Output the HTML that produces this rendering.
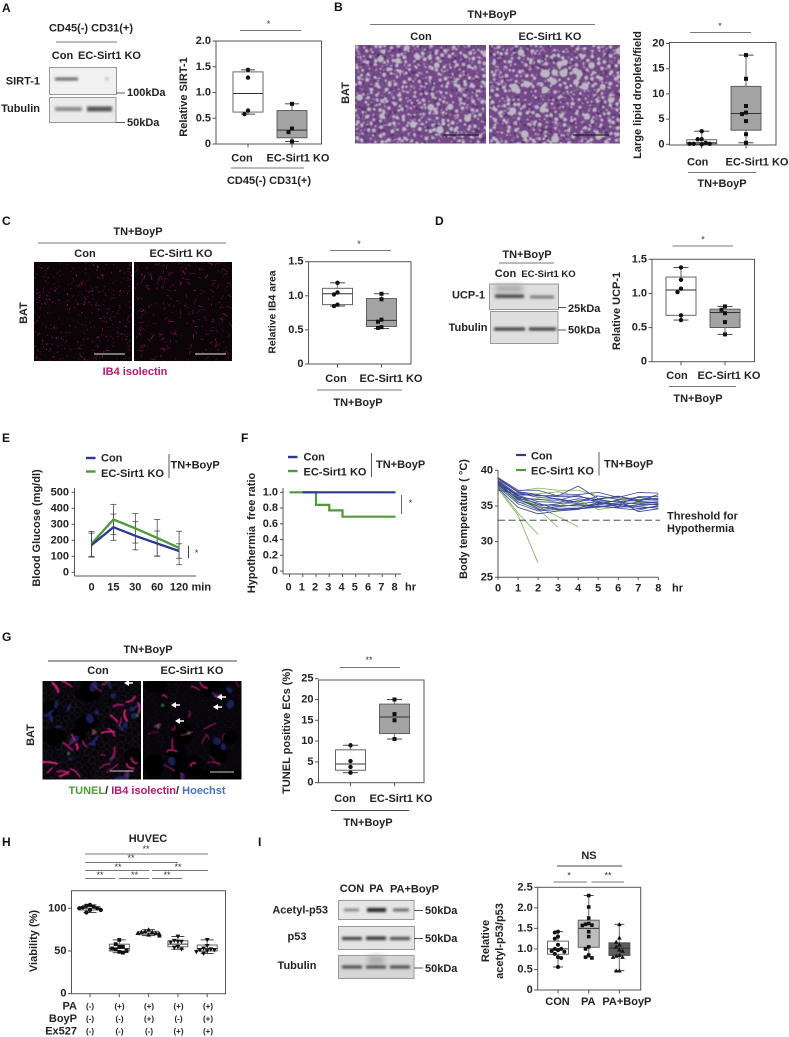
<!DOCTYPE html>
<html lang="en">
<head>
<meta charset="utf-8">
<title>EC-Sirt1 KO multi-panel figure</title>
<style>
html,body{margin:0;padding:0;background:#fff}
svg{display:block}
text{font:bold 11px "Liberation Sans",sans-serif;fill:#222;dominant-baseline:central;white-space:pre}
.m{text-anchor:middle}
.e{text-anchor:end}
.l{font-size:12px;fill:#111}
.s{font-size:9.5px}
.x{font-size:11px}
.star{font-size:9px;font-weight:normal;fill:#333}
.rule{stroke:#777;stroke-width:1;fill:none}
.tick{stroke:#555;stroke-width:1;fill:none}
.bar{stroke:#555;stroke-width:1;fill:none}
</style>
</head>
<body>
<svg id="fig" xmlns="http://www.w3.org/2000/svg" width="789" height="1037" viewBox="0 0 789 1037">
<defs>
<filter id="b04" x="-5%" y="-5%" width="110%" height="110%"><feGaussianBlur stdDeviation="0.45"/></filter>
<filter id="b1" x="-30%" y="-100%" width="160%" height="300%"><feGaussianBlur stdDeviation="1.2"/></filter>
<filter id="b3" x="-30%" y="-100%" width="160%" height="300%"><feGaussianBlur stdDeviation="2.6"/></filter>
</defs>

<!-- PANEL A -->
<g id="panel-a">
<text class="l" x="2" y="8">A</text>
<text class="m" x="91" y="28.5">CD45(-) CD31(+)</text>
<line class="rule" x1="56" x2="117" y1="42" y2="42"/>
<text class="m" x="62.5" y="56">Con</text>
<text class="m" x="109.5" y="56">EC-Sirt1 KO</text>
<text class="e" x="40" y="81.5">SIRT-1</text>
<text class="e" x="40" y="109">Tubulin</text>
<g>
<rect x="49.5" y="67.5" width="67" height="27" fill="#f1f1f1" stroke="#999"/>
<rect x="55" y="77.5" width="23" height="3" fill="#666" filter="url(#b1)"/>
<rect x="105" y="77.5" width="4" height="2.5" fill="#bbb" filter="url(#b1)"/>
</g>
<g>
<rect x="49.5" y="97.5" width="66.5" height="25" fill="#ebebeb" stroke="#999"/>
<rect x="55" y="107" width="27" height="4" fill="#888" filter="url(#b1)"/>
<rect x="87" y="106.5" width="25" height="5" fill="#555" filter="url(#b1)"/>
</g>
<line class="tick" x1="116" x2="125" y1="93" y2="93"/>
<line class="tick" x1="116" x2="125" y1="122.5" y2="122.5"/>
<text x="127" y="93">100kDa</text>
<text x="127" y="123">50kDa</text>
<text class="m" transform="translate(184 97) rotate(-90)">Relative SIRT-1</text>
<line class="rule" x1="231" x2="304" y1="168" y2="168"/>
<text class="m" x="269" y="181">CD45(-) CD31(+)</text>
<line class="rule" x1="240" x2="301" y1="30.5" y2="30.5"/>
<text class="m star" x="268.5" y="24">*</text>
</g>

<!-- PANEL B -->
<g id="panel-b">
<text class="l" x="334" y="7">B</text>
<text class="m" x="492" y="15">TN+BoyP</text>
<line class="rule" x1="370" x2="595" y1="24.5" y2="24.5"/>
<text class="m" x="421" y="37">Con</text>
<text class="m" x="550" y="37">EC-Sirt1 KO</text>
<text class="m" transform="translate(346 93) rotate(-90)">BAT</text>
<g id="he-a"></g>
<g id="he-b"></g>
<line x1="443" x2="479" y1="135" y2="135" stroke="#222" stroke-width="1.2"/>
<line x1="573" x2="609" y1="135" y2="135" stroke="#222" stroke-width="1.2"/>
<text class="m" transform="translate(638 95) rotate(-90)">Large lipid droplets/field</text>
<line class="rule" x1="688" x2="756" y1="172.5" y2="172.5" stroke-width="1.4"/>
<text class="m" x="722" y="184">TN+BoyP</text>
<line class="rule" x1="690" x2="751" y1="32.5" y2="32.5"/>
<text class="m star" x="720" y="26">*</text>
</g>

<!-- PANEL C -->
<g id="panel-c">
<text class="l" x="2" y="221">C</text>
<text class="m" x="138" y="232">TN+BoyP</text>
<line class="rule" x1="38" x2="226" y1="243" y2="243" stroke-width="1.3"/>
<text class="m" x="85" y="254">Con</text>
<text class="m" x="181" y="254">EC-Sirt1 KO</text>
<text class="m" transform="translate(24 313) rotate(-90)">BAT</text>
<g id="ib-a"></g>
<g id="ib-b"></g>
<line x1="94" x2="125" y1="354" y2="354" stroke="#bbb" stroke-width="1.2"/>
<line x1="195" x2="226" y1="354" y2="354" stroke="#bbb" stroke-width="1.2"/>
<text class="m" x="135" y="372" style="fill:#b5186e">IB4 isolectin</text>
<text class="m" transform="translate(273 312) rotate(-90)" style="font-size:10.4px">Relative IB4 area</text>
<line class="rule" x1="317" x2="402" y1="390" y2="390"/>
<text class="m" x="358" y="403">TN+BoyP</text>
<line class="rule" x1="330" x2="391" y1="250.5" y2="250.5"/>
<text class="m star" x="359" y="244">*</text>
</g>

<!-- PANEL D -->
<g id="panel-d">
<text class="l" x="435" y="221">D</text>
<text class="m" x="527" y="255">TN+BoyP</text>
<line class="rule" x1="499" x2="554" y1="263" y2="263"/>
<text class="m" x="505.5" y="274">Con</text>
<text class="m s" x="548.5" y="274.5">EC-Sirt1 KO</text>
<text class="e" x="485" y="295.5">UCP-1</text>
<text class="e" x="487.5" y="328">Tubulin</text>
<g>
<rect x="489.5" y="284" width="69" height="25.5" fill="#dedede" stroke="#999"/>
<rect x="495" y="285" width="28" height="7" fill="#aaa" filter="url(#b3)"/>
<rect x="495" y="294.5" width="29" height="3.5" fill="#444" filter="url(#b1)"/>
<rect x="530" y="295.5" width="24" height="3" fill="#777" filter="url(#b1)"/>
</g>
<g>
<rect x="490.5" y="311.5" width="67.5" height="32" fill="#dfdfdf" stroke="#999"/>
<rect x="494" y="327.5" width="31" height="3" fill="#333" filter="url(#b1)"/>
<rect x="529" y="327.5" width="27" height="3" fill="#333" filter="url(#b1)"/>
</g>
<line class="tick" x1="558" x2="566" y1="307.5" y2="307.5"/>
<line class="tick" x1="558" x2="566" y1="330" y2="330"/>
<text x="568" y="309">25kDa</text>
<text x="568" y="330.5">50kDa</text>
<text class="m" transform="translate(617 311) rotate(-90)">Relative UCP-1</text>
<line class="rule" x1="669" x2="736" y1="386.5" y2="386.5"/>
<text class="m" x="698" y="399">TN+BoyP</text>
<line class="rule" x1="672.5" x2="733" y1="246" y2="246"/>
<text class="m star" x="703" y="239.5">*</text>
</g>

<!-- PANEL E -->
<g id="panel-e">
<text class="l" x="2" y="438">E</text>
<line x1="86" x2="95.5" y1="458" y2="458" stroke="#2b3990" stroke-width="2.4"/>
<text class="x" x="101" y="458.5">Con</text>
<line x1="86" x2="95.5" y1="471.5" y2="471.5" stroke="#4f9a3a" stroke-width="2.4"/>
<text class="x" x="101" y="474">EC-Sirt1 KO</text>
<line x1="169" x2="169" y1="454" y2="478" stroke="#555"/>
<text x="170.5" y="465.5">TN+BoyP</text>
<text class="m x" transform="translate(37 528) rotate(-90)">Blood Glucose (mg/dl)</text>
<text class="x" x="191.5" y="587.5">min</text>
<line x1="188.5" x2="188.5" y1="546" y2="558" stroke="#444"/>
<text class="m star" x="196.5" y="553">*</text>
</g>

<!-- PANEL F -->
<g id="panel-f">
<text class="l" x="241" y="438">F</text>
<line x1="288" x2="297.5" y1="457" y2="457" stroke="#2b3990" stroke-width="2.4"/>
<text class="x" x="303.5" y="457.5">Con</text>
<line x1="288" x2="297.5" y1="471" y2="471" stroke="#4f9a3a" stroke-width="2.4"/>
<text class="x" x="303.5" y="472.5">EC-Sirt1 KO</text>
<line x1="371.5" x2="371.5" y1="453" y2="477" stroke="#555"/>
<text x="376" y="465">TN+BoyP</text>
<text class="m x" transform="translate(252 533) rotate(-90)">Hypothermia  free ratio</text>
<text class="x" x="405" y="587.5">hr</text>
<line x1="401.5" x2="401.5" y1="495" y2="514" stroke="#666"/>
<text class="m star" x="410.5" y="503">*</text>
</g>

<!-- BODY TEMPERATURE -->
<g id="panel-temp">
<line x1="516" x2="526" y1="455" y2="455" stroke="#2b3990" stroke-width="2.2"/>
<text class="x" x="531" y="456.5">Con</text>
<line x1="516" x2="526" y1="470" y2="470" stroke="#4f9a3a" stroke-width="2.2"/>
<text class="x" x="531" y="471.5">EC-Sirt1 KO</text>
<line x1="599" x2="599" y1="452" y2="475.5" stroke="#999" stroke-width="1.6"/>
<text x="604" y="464.5">TN+BoyP</text>
<text class="m x" transform="translate(464 519) rotate(-90)">Body temperature ( °C)</text>
<text class="x" x="672" y="588.5">hr</text>
<text x="667" y="516.5">Threshold for</text>
<text x="667" y="529">Hypothermia</text>
</g>

<!-- PANEL G -->
<g id="panel-g">
<text class="l" x="2" y="637">G</text>
<text class="m" x="148" y="650">TN+BoyP</text>
<line x1="48" x2="237" y1="661" y2="661" stroke="#444"/>
<text class="m" x="98" y="671">Con</text>
<text class="m" x="192" y="671">EC-Sirt1 KO</text>
<text class="m" transform="translate(31 735) rotate(-90)">BAT</text>
<g id="if-a"></g>
<g id="if-b"></g>
<line x1="110" x2="133.5" y1="771" y2="771" stroke="#ccc" stroke-width="1.1"/>
<line x1="210" x2="234" y1="772" y2="772" stroke="#ccc" stroke-width="1.1"/>
<text class="m" x="147" y="791"><tspan style="fill:#4f9a3a">TUNEL</tspan>/ <tspan style="fill:#b5186e">IB4 isolectin</tspan>/ <tspan style="fill:#4a72c4">Hoechst</tspan></text>
<text class="m" transform="translate(287 731) rotate(-90)">TUNEL positive ECs (%)</text>
<line x1="331" x2="409" y1="810.5" y2="810.5" stroke="#444"/>
<text class="m" x="368" y="823">TN+BoyP</text>
<line class="rule" x1="340" x2="400" y1="667.5" y2="667.5"/>
<text class="m star" x="369" y="660">**</text>
</g>

<!-- PANEL H -->
<g id="panel-h">
<text class="l" x="2" y="842">H</text>
<text class="m" x="148" y="839">HUVEC</text>
<g>
<line class="rule" x1="85" x2="208" y1="854" y2="854"/>
<line class="rule" x1="85" x2="178" y1="862.5" y2="862.5"/>
<line class="rule" x1="85" x2="149" y1="870.5" y2="870.5"/>
<line class="rule" x1="152" x2="208" y1="870.5" y2="870.5"/>
<line class="rule" x1="85" x2="115" y1="878.5" y2="878.5"/>
<line class="rule" x1="119" x2="149" y1="878.5" y2="878.5"/>
<line class="rule" x1="152" x2="182" y1="878.5" y2="878.5"/>
<text class="m star" x="146" y="849">**</text>
<text class="m star" x="131" y="858">**</text>
<text class="m star" x="118" y="867">**</text>
<text class="m star" x="178" y="867">**</text>
<text class="m star" x="100" y="875">**</text>
<text class="m star" x="134.5" y="875">**</text>
<text class="m star" x="167" y="875">**</text>
</g>
<text class="m" transform="translate(34 941) rotate(-90)">Viability (%)</text>
<text class="e" x="77" y="1006.5">PA</text>
<text class="e" x="77" y="1019">BoyP</text>
<text class="e" x="77" y="1031.5">Ex527</text>
</g>

<!-- PANEL I -->
<g id="panel-i">
<text class="l" x="258" y="842">I</text>
<text class="m" x="352" y="889">CON</text>
<text class="m" x="376.5" y="889">PA</text>
<text class="m" x="414.5" y="889.5">PA+BoyP</text>
<text class="e" x="328" y="910.5">Acetyl-p53</text>
<text class="m" x="297" y="937">p53</text>
<text class="m" x="297" y="966">Tubulin</text>
<g>
<rect x="338.5" y="900.5" width="75.5" height="19" fill="#e6e6e6" stroke="#999"/>
<rect x="344" y="908.5" width="15" height="3" fill="#888" filter="url(#b1)"/>
<rect x="367" y="908" width="19" height="4" fill="#222" filter="url(#b1)"/>
<rect x="393" y="908.5" width="16" height="3" fill="#666" filter="url(#b1)"/>
</g>
<g>
<rect x="338.5" y="926.5" width="76" height="23" fill="#e3e3e3" stroke="#999"/>
<rect x="342" y="937" width="20" height="3" fill="#333" filter="url(#b1)"/>
<rect x="366" y="936.5" width="20" height="3.5" fill="#333" filter="url(#b1)"/>
<rect x="390" y="937" width="20" height="3" fill="#444" filter="url(#b1)"/>
</g>
<g>
<rect x="338.5" y="955.5" width="75.5" height="23" fill="#d6d6d6" stroke="#999"/>
<rect x="368" y="956" width="16" height="8" fill="#aaa" filter="url(#b3)"/>
<rect x="342" y="965.5" width="20" height="3" fill="#444" filter="url(#b1)"/>
<rect x="366" y="965.5" width="20" height="3" fill="#444" filter="url(#b1)"/>
<rect x="390" y="965.5" width="20" height="3" fill="#444" filter="url(#b1)"/>
</g>
<line class="tick" x1="414" x2="423" y1="910.5" y2="910.5"/>
<line class="tick" x1="414" x2="423" y1="938.5" y2="938.5"/>
<line class="tick" x1="414" x2="423" y1="968" y2="968"/>
<text x="425" y="911">50kDa</text>
<text x="425" y="939">50kDa</text>
<text x="425" y="969">50kDa</text>
<text class="m" transform="translate(486 941) rotate(-90)">Relative</text>
<text class="m" transform="translate(500 941) rotate(-90)">acetyl-p53/p53</text>
<text class="m" x="589" y="856">NS</text>
<line x1="557" x2="622" y1="866" y2="866" stroke="#444"/>
<line class="rule" x1="553.5" x2="587" y1="882" y2="882"/>
<line class="rule" x1="591.5" x2="624" y1="882" y2="882"/>
<text class="m star" x="569" y="875.5">*</text>
<text class="m star" x="608" y="875.5">**</text>
</g>
<g id="charts"></g>
</svg>

<script>
/* ---------- chart data ---------- */
const aCategories = ['Con', 'EC-Sirt1 KO'];
const aTickValues = [0, 0.5, 1, 1.5, 2];
const aTickLabels = ['0', '0.5', '1.0', '1.5', '2.0'];
const aConStats = [0.58, 0.62, 0.98, 1.40, 1.44];
const aKoStats = [0.05, 0.12, 0.27, 0.65, 0.78];
const aConPoints = [1.44, 1.29, 0.65, 0.58];
const aKoPoints = [0.78, 0.30, 0.23, 0.05];

const bCategories = ['Con', 'EC-Sirt1 KO'];
const bTickValues = [0, 5, 10, 15, 20];
const bTickLabels = ['0', '5', '10', '15', '20'];
const bConStats = [0, 0.1, 0.3, 0.9, 2.6];
const bKoStats = [0.3, 2.8, 6.1, 11.5, 17.7];
const bConPoints = [2.6, 1.0, 1.0, 0.3, 0.1, 0.1, 0.1, 0];
const bKoPoints = [17.7, 13, 7.6, 6.3, 6.0, 4.6, 2.0, 0.3];

const cCategories = ['Con', 'EC-Sirt1 KO'];
const cTickValues = [0, 0.5, 1, 1.5];
const cTickLabels = ['0', '0.5', '1.0', '1.5'];
const cConStats = [0.85, 0.87, 1.03, 1.11, 1.19];
const cKoStats = [0.52, 0.55, 0.64, 0.96, 1.03];
const cConPoints = [1.19, 1.05, 1.02, 0.87, 0.85];
const cKoPoints = [1.03, 0.95, 0.65, 0.62, 0.54, 0.53];

const dCategories = ['Con', 'EC-Sirt1 KO'];
const dTickValues = [0, 0.5, 1, 1.5];
const dTickLabels = ['0', '0.5', '1.0', '1.5'];
const dConStats = [0.61, 0.68, 1.05, 1.24, 1.38];
const dKoStats = [0.40, 0.50, 0.72, 0.77, 0.81];
const dConPoints = [1.38, 1.20, 1.07, 1.02, 0.68, 0.61];
const dKoPoints = [0.81, 0.76, 0.71, 0.58, 0.40];

const gCategories = ['Con', 'EC-Sirt1 KO'];
const gTickValues = [0, 5, 10, 15, 20, 25];
const gTickLabels = ['0', '5', '10', '15', '20', '25'];
const gConStats = [2.4, 3.0, 4.5, 7.9, 9.0];
const gKoStats = [10.5, 11.8, 15.8, 18.9, 20.0];
const gConPoints = [9.0, 5.2, 3.8, 2.4];
const gKoPoints = [20.0, 16.5, 15.0, 10.5];

const hTickValues = [0, 50, 100];
const hTickLabels = ['0', '50', '100'];
const hStats1 = [95, 98, 100, 102, 104];
const hStats2 = [48, 50, 53, 58, 63];
const hStats3 = [68, 69, 71, 73, 75];
const hStats4 = [52, 55, 58, 62, 67];
const hStats5 = [47, 50, 53, 57, 63];
const hPoints1 = [104, 103, 102, 101, 100, 100, 98, 98, 95];
const hPoints2 = [63, 58, 55, 55, 53, 52, 50, 49, 48];
const hPoints3 = [75, 73, 72, 72, 71, 71, 70, 69, 68];
const hPoints4 = [67, 62, 61, 61, 60, 55, 54, 52];
const hPoints5 = [63, 56, 53, 52, 51, 51, 50, 49, 47];
const hPaRow = ['(-)', '(+)', '(+)', '(+)', '(+)'];
const hBoypRow = ['(-)', '(-)', '(+)', '(-)', '(+)'];
const hEx527Row = ['(-)', '(-)', '(-)', '(+)', '(+)'];

const iCategories = ['CON', 'PA', 'PA+BoyP'];
const iTickValues = [0, 0.5, 1, 1.5, 2, 2.5];
const iTickLabels = ['0', '0.5', '1.0', '1.5', '2.0', '2.5'];
const iConStats = [0.56, 0.87, 1.00, 1.19, 1.42];
const iPaStats = [0.80, 1.04, 1.50, 1.70, 2.30];
const iBoypStats = [0.47, 0.84, 1.02, 1.15, 1.60];
const iConPoints = [1.42, 1.40, 1.30, 1.25, 1.10, 1.00, 1.00, 0.97, 0.95, 0.93, 0.88, 0.80, 0.78, 0.56];
const iPaPoints = [2.30, 2.02, 1.75, 1.62, 1.60, 1.58, 1.57, 1.42, 1.30, 1.05, 1.00, 0.85, 0.80, 0.78];
const iBoypPoints = [1.60, 1.27, 1.17, 1.10, 1.05, 0.98, 0.95, 0.85, 0.83, 0.80, 0.80, 0.47, 0.47];

const eCategories = ['0', '15', '30', '60', '120'];
const eTickValues = [0, 100, 200, 300, 400, 500];
const eConMeans = [170, 282, 228, 180, 133];
const eKoMeans = [178, 330, 275, 215, 152];
const eConErrors = [75, 82, 88, 78, 45];
const eKoErrors = [78, 95, 92, 115, 105];

const fHours = [0, 1, 2, 3, 4, 5, 6, 7, 8];
const fTickValues = [0, 0.2, 0.4, 0.6, 0.8, 1];
const fTickLabels = ['0', '0.2', '0.4', '0.6', '0.8', '1.0'];
const fConRatio = [1, 1, 1, 1, 1, 1, 1, 1, 1];
const fKoRatio = [1, 1, 0.84, 0.77, 0.69, 0.69, 0.69, 0.69, 0.69];

const tHours = [0, 1, 2, 3, 4, 5, 6, 7, 8];
const tTickValues = [25, 30, 35, 40];
const tThreshold = 33;
const tConLines = [
  [39.0, 37.2, 37.2, 36.4, 37.8, 36.0, 36.3, 35.9, 35.8],
  [38.8, 36.9, 36.4, 36.5, 36.6, 36.9, 36.2, 36.9, 36.8],
  [38.6, 36.6, 36.5, 36.3, 36.3, 35.9, 36.4, 35.6, 36.6],
  [38.5, 36.2, 35.9, 35.8, 36.5, 35.4, 35.2, 36.3, 36.3],
  [38.4, 36.5, 35.6, 35.5, 36.0, 35.7, 35.6, 35.8, 36.1],
  [38.3, 35.9, 35.0, 35.3, 35.7, 35.9, 35.5, 35.3, 35.6],
  [38.2, 36.4, 35.2, 35.1, 35.0, 35.2, 35.0, 35.6, 35.4],
  [38.1, 36.0, 34.7, 34.9, 35.2, 34.9, 34.8, 35.2, 35.2],
  [38.0, 35.6, 34.5, 34.7, 34.7, 35.5, 35.3, 34.6, 35.0],
  [37.9, 36.1, 35.4, 34.5, 34.6, 34.8, 35.2, 34.9, 34.7],
  [37.7, 35.3, 34.3, 34.5, 34.6, 35.0, 34.7, 34.4, 35.1],
  [37.5, 34.8, 33.9, 34.3, 34.5, 35.3, 35.8, 34.2, 34.6],
  [37.2, 36.8, 36.2, 36.0, 35.5, 36.4, 35.9, 36.2, 35.9],
  [38.9, 37.0, 36.6, 35.9, 35.3, 35.6, 34.9, 35.0, 35.3]
];
const tKoLines = [
  [38.6, 37.1, 37.5, 37.2, 37.2, 36.4, 36.1, 35.8, 36.6],
  [38.3, 36.4, 36.7, 37.0, 36.3, 35.9, 35.5, 36.2, 36.0],
  [38.0, 35.9, 36.0, 35.5, 35.2, 35.1, 35.9, 35.7, 35.5],
  [37.9, 35.5, 35.2, 35.0, 35.8, 34.5, 34.9, 34.7, 34.9],
  [37.8, 36.2, 35.0, 34.4, 34.7, 35.4, 35.2, 35.5, 35.2],
  [37.7, 35.8, 34.9, 33.5, 32.1],
  [38.1, 36.0, 34.6, 32.0],
  [37.6, 34.0, 31.0],
  [37.4, 33.7, 27.0]
];

/* ---------- helpers ---------- */
const SVGNS = 'http://www.w3.org/2000/svg';
const chartsRoot = document.getElementById('charts');
function mk(tag, attrs, parent) {
  const node = document.createElementNS(SVGNS, tag);
  for (const k in attrs) node.setAttribute(k, attrs[k]);
  (parent || chartsRoot).appendChild(node);
  return node;
}
function lbl(str, x, y, cls, parent) {
  const node = mk('text', {x: x, y: y, class: cls || ''}, parent);
  node.textContent = str;
  return node;
}
function marker(kind, x, y, size, parent) {
  if (kind === 'square') return mk('rect', {x: x - size, y: y - size, width: size * 2, height: size * 2, fill: '#111'}, parent);
  if (kind === 'up') return mk('polygon', {points: [x, y - size - 0.5, x + size + 0.5, y + size, x - size - 0.5, y + size].join(' '), fill: '#111'}, parent);
  if (kind === 'down') return mk('polygon', {points: [x, y + size + 0.5, x + size + 0.5, y - size, x - size - 0.5, y - size].join(' '), fill: '#111'}, parent);
  return mk('circle', {cx: x, cy: y, r: size + 0.2, fill: '#111'}, parent);
}
function swarm(points, yScale, gap, minDist) {
  const placed = [];
  const order = [0, -1, 1, -2, 2, -3, 3];
  return points.map(function (v) {
    const py = yScale(v);
    let off = 0;
    for (let k = 0; k < order.length; k++) {
      off = order[k] * gap;
      const clash = placed.some(function (p) { return Math.abs(p.y - py) < minDist && Math.abs(p.x - off) < gap * 0.9; });
      if (!clash) break;
    }
    placed.push({x: off, y: py});
    return off;
  });
}

/* ---------- box plot panels ---------- */
function boxChart(key, c) {
  const g = mk('g', {});
  
  
  const y = function (v) { return c.y0 + (c.yTop - c.y0) * (v / c.yMax); };
  const x = function (i) { return c.x0 + i * c.step; };
  const frame = mk('rect', {x: c.l, y: c.t, width: c.r - c.l, height: c.b - c.t, fill: 'none', stroke: '#555', 'stroke-width': 1}, g);
  
  
  c.ticks.forEach(function (v, i) {
    const tk = mk('line', {x1: c.l - 3.5, x2: c.l, y1: y(v), y2: y(v), class: 'tick'}, g);
    
    
    const tl = lbl(c.tickLabels[i], c.l - 5, y(v), 'e', g);
    
    
  });
  c.stats.forEach(function (st, i) {
    const cx = x(i);
    const tk = mk('line', {x1: cx, x2: cx, y1: c.b, y2: c.b + 3.5, class: 'tick'}, g);
    
    
    const whisk = mk('line', {x1: cx, x2: cx, y1: y(st[0]), y2: y(st[4]), stroke: '#888', 'stroke-width': 1.3}, g);
    
    
    [st[0], st[4]].forEach(function (v) {
      const cap = mk('line', {x1: cx - c.cap, x2: cx + c.cap, y1: y(v), y2: y(v), stroke: '#333', 'stroke-width': 0.9}, g);
      
      
    });
    const box = mk('rect', {x: cx - c.w / 2, y: y(st[3]), width: c.w, height: y(st[1]) - y(st[3]), fill: c.fills[i], stroke: '#555', 'stroke-width': 0.9}, g);
    
    
    const med = mk('line', {x1: cx - c.w / 2, x2: cx + c.w / 2, y1: y(st[2]), y2: y(st[2]), stroke: '#333', 'stroke-width': 1}, g);
    
    
    const off = swarm(c.points[i], y, c.gap, c.ms * 2.3);
    c.points[i].forEach(function (v, j) {
      const p = marker(c.markers[i], cx + off[j], y(v), c.ms, g);
      
      
    });
    if (c.cats) {
      const cl = lbl(c.cats[i], cx + c.labelDx[i], c.labelY, 'm', g);
      
      
    }
  });
}
const twoFills = ['#ffffff', '#a3a3a3'];
const twoMarks = ['circle', 'square'];

boxChart('sirt1', {l: 216, r: 321.5, t: 41, b: 144, y0: 144, yTop: 41, yMax: 2, x0: 248, step: 44, w: 30, cap: 7, gap: 3.5, ms: 2, fills: twoFills, markers: twoMarks,
  ticks: aTickValues, tickLabels: aTickLabels, stats: [aConStats, aKoStats], points: [aConPoints, aKoPoints], cats: aCategories, labelDx: [-6, 6], labelY: 158.5});
boxChart('droplets', {l: 669.5, r: 776, t: 42.5, b: 145, y0: 144.3, yTop: 43.5, yMax: 20, x0: 701.7, step: 44.3, w: 30, cap: 7.5, gap: 4, ms: 2, fills: twoFills, markers: twoMarks,
  ticks: bTickValues, tickLabels: bTickLabels, stats: [bConStats, bKoStats], points: [bConPoints, bKoPoints], cats: bCategories, labelDx: [-4, 11], labelY: 162.5});
boxChart('ib4-area', {l: 308.5, r: 411, t: 261.7, b: 364, y0: 364, yTop: 261.7, yMax: 1.5, x0: 337.5, step: 44, w: 30, cap: 7.5, gap: 3.5, ms: 2, fills: twoFills, markers: twoMarks,
  ticks: cTickValues, tickLabels: cTickLabels, stats: [cConStats, cKoStats], points: [cConPoints, cKoPoints], cats: cCategories, labelDx: [-1.5, 9.5], labelY: 379});
boxChart('ucp1', {l: 652, r: 754.5, t: 259.3, b: 361.7, y0: 361.7, yTop: 259.3, yMax: 1.5, x0: 681, step: 44, w: 30, cap: 7.5, gap: 3.5, ms: 2, fills: twoFills, markers: twoMarks,
  ticks: dTickValues, tickLabels: dTickLabels, stats: [dConStats, dKoStats], points: [dConPoints, dKoPoints], cats: dCategories, labelDx: [-4, 4], labelY: 376});
boxChart('tunel', {l: 318.5, r: 424, t: 680, b: 782.7, y0: 782.7, yTop: 678.7, yMax: 25, x0: 350.5, step: 44, w: 30, cap: 7.5, gap: 3.5, ms: 2, fills: twoFills, markers: twoMarks,
  ticks: gTickValues, tickLabels: gTickLabels, stats: [gConStats, gKoStats], points: [gConPoints, gKoPoints], cats: gCategories, labelDx: [-5.5, 6.5], labelY: 799});
boxChart('viability', {l: 71.5, r: 225.5, t: 890.7, b: 993.7, y0: 993.7, yTop: 908.3, yMax: 100, x0: 90, step: 29.3, w: 20, cap: 6.5, gap: 3.6, ms: 1.9, fills: ['#fff', '#fff', '#fff', '#fff', '#fff'], markers: ['circle', 'square', 'up', 'down', 'down'],
  ticks: hTickValues, tickLabels: hTickLabels, stats: [hStats1, hStats2, hStats3, hStats4, hStats5], points: [hPoints1, hPoints2, hPoints3, hPoints4, hPoints5]});
boxChart('acetyl-ratio', {l: 537.7, r: 640.7, t: 887.3, b: 990, y0: 990, yTop: 887.3, yMax: 2.5, x0: 558, step: 30.7, w: 21, cap: 5, gap: 3.2, ms: 1.8, fills: ['#ffffff', '#bdbdbd', '#5c5c5c'], markers: ['circle', 'square', 'up'],
  ticks: iTickValues, tickLabels: iTickLabels, stats: [iConStats, iPaStats, iBoypStats], points: [iConPoints, iPaPoints, iBoypPoints], cats: iCategories, labelDx: [-0.5, -0.5, 7.5], labelY: 1002});

/* treatment rows below panel H */
[[hPaRow, 1006.5, 'pa'], [hBoypRow, 1019, 'boyp'], [hEx527Row, 1031.5, 'ex527']].forEach(function (row) {
  row[0].forEach(function (s, i) {
    const cell = lbl(s, 90 + i * 29.5, row[1], 'm');
    cell.style.fontSize = '8px';
    
    
  });
});

/* ---------- E: glucose line chart ---------- */
(function () {
  const g = mk('g', {});
  
  
  const y = function (v) { return 572.3 + (492.3 - 572.3) * (v / 500); };
  const x = function (i) { return 91.5 + i * 21.9; };
  const yAxis = mk('line', {x1: 74.5, x2: 74.5, y1: 488, y2: 576, class: 'tick'}, g);
  
  
  const xAxis = mk('line', {x1: 74.5, x2: 196, y1: 576, y2: 576, class: 'tick'}, g);
  
  
  eTickValues.forEach(function (v) {
    const tk = mk('line', {x1: 71.5, x2: 74.5, y1: y(v), y2: y(v), class: 'tick'}, g);
    
    
    const tl = lbl(String(v), 69, y(v), 'e x', g);
    
    
  });
  eCategories.forEach(function (c, i) {
    const tl = lbl(c, x(i), 587.5, 'm x', g);
    
    
  });
  function errs(means, errors, nm) {
    means.forEach(function (m, i) {
      const v = mk('line', {x1: x(i), x2: x(i), y1: y(m - errors[i]), y2: y(m + errors[i]), stroke: '#333', 'stroke-width': 0.7}, g);
      
      
      [m - errors[i], m + errors[i]].forEach(function (e) {
        const cp = mk('line', {x1: x(i) - 3, x2: x(i) + 3, y1: y(e), y2: y(e), stroke: '#333', 'stroke-width': 0.7}, g);
        
        
      });
    });
  }
  errs(eConMeans, eConErrors, 'glucose-con');
  errs(eKoMeans, eKoErrors, 'glucose-ko');
  function path(means, col, nm) {
    const p = mk('polyline', {points: means.map(function (m, i) { return x(i) + ',' + y(m); }).join(' '), fill: 'none', stroke: col, 'stroke-width': 2.3}, g);
    
    
  }
  path(eKoMeans, '#4f9a3a', 'glucose-ko-line');
  path(eConMeans, '#2b3990', 'glucose-con-line');
})();

/* ---------- F: survival steps ---------- */
(function () {
  const g = mk('g', {});
  
  
  const y = function (v) { return 571 + (492.3 - 571) * v; };
  const x = function (h) { return 289.5 + (395.5 - 289.5) * (h / 8); };
  const yAxis = mk('line', {x1: 283, x2: 283, y1: 488, y2: 574, class: 'tick'}, g);
  
  
  const xAxis = mk('line', {x1: 283, x2: 401, y1: 574, y2: 574, class: 'tick'}, g);
  
  
  fTickValues.forEach(function (v, i) {
    const tk = mk('line', {x1: 280, x2: 283, y1: y(v), y2: y(v), class: 'tick'}, g);
    
    
    const tl = lbl(fTickLabels[i], 278, y(v), 'e x', g);
    
    
  });
  fHours.forEach(function (h) {
    const tk = mk('line', {x1: x(h), x2: x(h), y1: 574, y2: 577, class: 'tick'}, g);
    
    
    const tl = lbl(String(h), x(h) - 1, 587.5, 'm x', g);
    
    
  });
  function steps(vals) {
    let d = 'M' + x(fHours[0]) + ' ' + y(vals[0]);
    for (let i = 1; i < vals.length; i++) d += 'H' + x(fHours[i]) + 'V' + y(vals[i]);
    return d;
  }
  const ko = mk('path', {d: steps(fKoRatio), fill: 'none', stroke: '#4f9a3a', 'stroke-width': 2.2}, g);
  
  
  const first = fKoRatio.findIndex(function (v) { return v < 1; });
  const con = mk('path', {d: 'M' + x(fHours[first - 1]) + ' ' + y(fConRatio[first]) + 'H' + x(fHours[fHours.length - 1]), fill: 'none', stroke: '#2b3990', 'stroke-width': 2.2}, g);
  
  
})();

/* ---------- body temperature traces ---------- */
(function () {
  const g = mk('g', {});
  
  
  const y = function (v) { return 577.3 + (470.3 - 577.3) * ((v - 25) / 15); };
  const x = function (h) { return 498 + (658.3 - 498) * (h / 8); };
  const yAxis = mk('line', {x1: 498, x2: 498, y1: 470, y2: 577.3, class: 'tick'}, g);
  
  
  const xAxis = mk('line', {x1: 498, x2: 658.5, y1: 577.3, y2: 577.3, class: 'tick'}, g);
  
  
  tTickValues.forEach(function (v) {
    const tk = mk('line', {x1: 495, x2: 498, y1: y(v), y2: y(v), class: 'tick'}, g);
    
    
    const tl = lbl(String(v), 493, y(v), 'e x', g);
    
    
  });
  tHours.forEach(function (h) {
    const tk = mk('line', {x1: x(h), x2: x(h), y1: 577.3, y2: 580, class: 'tick'}, g);
    
    
    const tl = lbl(String(h), x(h), 588.5, 'm x', g);
    
    
  });
  function traces(lines, col, nm) {
    lines.forEach(function (vals) {
      const p = mk('polyline', {points: vals.map(function (v, i) { return x(tHours[i]) + ',' + y(v); }).join(' '), fill: 'none', stroke: col, 'stroke-width': 0.8}, g);
      
      
    });
  }
  traces(tKoLines, '#7fb455', 'temperature-ko-trace');
  traces(tConLines, '#3a4398', 'temperature-con-trace');
  const th = mk('line', {x1: 498, x2: 660, y1: y(tThreshold), y2: y(tThreshold), stroke: '#333', 'stroke-width': 0.9, 'stroke-dasharray': '7 3.5'}, g);
  
  
})();

/* ---------- decorative micrograph textures (not chart data) ---------- */
function rng(seed) {
  let s = seed;
  return function () { s = (s * 16807) % 2147483647; return (s - 1) / 2147483646; };
}
let clipCount = 0;
function plate(id, px, py, w, h, base) {
  const root = document.getElementById(id);
  const cid = 'clip' + (++clipCount);
  const defs = mk('clipPath', {id: cid}, root);
  mk('rect', {x: px, y: py, width: w, height: h}, defs);
  const g = mk('g', {'clip-path': 'url(#' + cid + ')'}, root);
  mk('rect', {x: px, y: py, width: w, height: h, fill: base}, g);
  return g;
}
function hne(id, px, py, w, h, seed) {
  const g = plate(id, px, py, w, h, '#744889');
  const r = rng(seed);
  const inner = mk('g', {filter: 'url(#b04)'}, g);
  for (let i = 0; i < 1000; i++) {
    mk('circle', {cx: px + r() * w, cy: py + r() * h, r: 0.5 + r() * 0.7, fill: r() < 0.55 ? '#4f2a66' : '#a78ab4'}, inner);
  }
  const cell = 5.6;
  for (let gy = 0; gy < h; gy += cell) {
    for (let gx = 0; gx < w; gx += cell) {
      const big = r() < 0.05;
      mk('circle', {cx: px + gx + r() * cell, cy: py + gy + r() * cell, r: big ? 2.8 + r() * 1.2 : 0.8 + r() * 1.25, fill: '#bbb7c1'}, inner);
    }
  }
}
function ib4(id, px, py, w, h, seed, dense) {
  const g = plate(id, px, py, w, h, '#0b0508');
  const r = rng(seed);
  const n = dense ? 400 : 230;
  for (let i = 0; i < n; i++) {
    const x = px + r() * w, y = py + r() * h;
    const a = r() * 6.28, len = dense ? 0.5 + r() * 1.6 : 1 + r() * 4.5;
    mk('line', {x1: x, y1: y, x2: x + Math.cos(a) * len, y2: y + Math.sin(a) * len, stroke: r() < 0.2 ? '#b8186e' : '#6a0f44', 'stroke-width': dense ? 0.8 : 0.6}, g);
  }
}
function fluo(id, px, py, w, h, seed, rich) {
  const g = plate(id, px, py, w, h, '#070509');
  const r = rng(seed);
  const inner = mk('g', {filter: 'url(#b04)'}, g);
  for (let gy = 0; gy < h; gy += 7) {
    for (let gx = 0; gx < w; gx += 7) {
      mk('circle', {cx: px + gx + r() * 3, cy: py + gy + r() * 3, r: 2.2 + r() * 1.6, fill: 'none', stroke: rich ? '#2a2230' : '#181320', 'stroke-width': 0.5}, inner);
    }
  }
  const voids = rich ? 8 : 13;
  for (let i = 0; i < voids; i++) {
    mk('ellipse', {cx: px + r() * w, cy: py + r() * h, rx: 7 + r() * 6, ry: 6 + r() * 6, fill: '#040205'}, inner);
  }
  const blues = rich ? 22 : 7;
  for (let i = 0; i < blues; i++) {
    const x = px + r() * w, y = py + r() * h;
    mk('ellipse', {cx: x, cy: y, rx: 2 + r() * 4.5, ry: 1.2 + r() * 2.5, fill: '#26307e', opacity: 0.65, transform: 'rotate(' + (r() * 180) + ' ' + x + ' ' + y + ')'}, inner);
  }
  const pinks = rich ? 30 : 22;
  for (let i = 0; i < pinks; i++) {
    const x = px + r() * w, y = py + r() * h, a = r() * 6.28, len = 4 + r() * (rich ? 10 : 9);
    const ex = x + Math.cos(a) * len, ey = y + Math.sin(a) * len;
    const qx = (x + ex) / 2 + (r() - 0.5) * 7, qy = (y + ey) / 2 + (r() - 0.5) * 7;
    mk('path', {d: 'M' + x + ' ' + y + 'Q' + qx + ' ' + qy + ' ' + ex + ' ' + ey, fill: 'none', stroke: r() < 0.6 ? '#d8227f' : '#8e1860', 'stroke-width': rich ? 0.8 + r() * 1.5 : 0.5 + r() * 0.7, 'stroke-linecap': 'round'}, inner);
  }
  for (let i = 0; i < 3; i++) {
    mk('circle', {cx: px + r() * w, cy: py + r() * h, r: 1.6, fill: '#3f8a4a', opacity: 0.7}, inner);
  }
}
function arrow(rootId, x, y) {
  const a = mk('polygon', {points: [x, y, x + 5, y - 3, x + 5, y - 0.8, x + 9, y - 0.8, x + 9, y + 0.8, x + 5, y + 0.8, x + 5, y + 3].join(' '), fill: '#fff'}, document.getElementById(rootId));
  
  
}
hne('he-a', 355, 45, 131, 98.5, 12345);
hne('he-b', 489, 45, 131, 98.5, 67891);
ib4('ib-a', 34, 262, 98, 99, 4242, true);
ib4('ib-b', 134, 262, 98, 99, 9191, false);
fluo('if-a', 42.5, 681, 98.5, 98.5, 777, true);
fluo('if-b', 143, 681, 98.5, 98.5, 31337, false);
arrow('if-a', 124, 683);
arrow('if-b', 171, 705);
arrow('if-b', 175, 721);
arrow('if-b', 217, 697);
arrow('if-b', 213, 707);
</script>
</body>
</html>
